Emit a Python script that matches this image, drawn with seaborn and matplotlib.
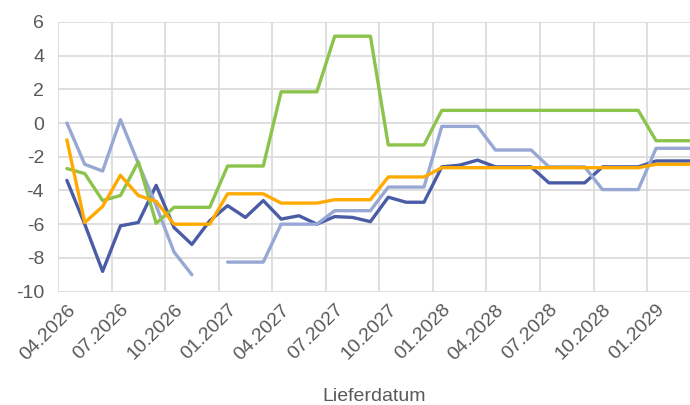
import numpy as np
import pandas as pd
import matplotlib
matplotlib.use("Agg")
import matplotlib.pyplot as plt
import seaborn as sns

# --- data (monthly, 04.2026 .. 03.2029) ---
months = pd.date_range("2026-04-01", "2029-03-01", freq="MS").strftime("%m.%Y").tolist()

dark_blue = [-3.4, -6.0, -8.8, -6.1, -5.9, -3.7, -6.2, -7.2, -5.8, -4.9, -5.6, -4.6,
             -5.7, -5.5, -6.0, -5.55, -5.6, -5.85, -4.4, -4.7, -4.7, -2.6, -2.5, -2.2,
             -2.6, -2.6, -2.6, -3.55, -3.55, -3.55, -2.6, -2.6, -2.6, -2.25, -2.25, -2.25]

light_blue = [0.0, -2.45, -2.85, 0.2, -2.4, -4.9, -7.65, -9.0, np.nan, -8.25, -8.25, -8.25,
              -6.0, -6.0, -6.0, -5.2, -5.2, -5.2, -3.8, -3.8, -3.8, -0.2, -0.2, -0.2,
              -1.6, -1.6, -1.6, -2.6, -2.6, -2.6, -3.95, -3.95, -3.95, -1.5, -1.5, -1.5]

green = [-2.7, -3.0, -4.6, -4.3, -2.3, -5.95, -5.0, -5.0, -5.0, -2.55, -2.55, -2.55,
         1.85, 1.85, 1.85, 5.15, 5.15, 5.15, -1.3, -1.3, -1.3, 0.75, 0.75, 0.75,
         0.75, 0.75, 0.75, 0.75, 0.75, 0.75, 0.75, 0.75, 0.75, -1.05, -1.05, -1.05]

orange = [-1.0, -5.9, -4.95, -3.1, -4.3, -4.65, -6.0, -6.0, -6.0, -4.2, -4.2, -4.2,
          -4.75, -4.75, -4.75, -4.55, -4.55, -4.55, -3.2, -3.2, -3.2, -2.65, -2.65, -2.65,
          -2.65, -2.65, -2.65, -2.65, -2.65, -2.65, -2.65, -2.65, -2.65, -2.45, -2.45, -2.45]

series = {"dark_blue": dark_blue, "light_blue": light_blue, "green": green, "orange": orange}
colors = {"dark_blue": "#4A5CA6", "light_blue": "#97A8D4", "green": "#8CC34B", "orange": "#FFAA00"}

sns.set_style("white")
plt.rcParams["font.family"] = ["Liberation Sans", "DejaVu Sans"]
plt.rcParams["axes.unicode_minus"] = False

fig = plt.figure(figsize=(6.9, 4.05), dpi=100)
ax = fig.add_axes([0.084, 0.28, 0.916, 0.666])

x = np.arange(len(months))
for name, vals in series.items():
    v = np.array(vals, dtype=float)
    # break the line where data is missing
    seg = np.cumsum(np.isnan(v))
    df = pd.DataFrame({"x": x, "y": v, "seg": seg}).dropna()
    sns.lineplot(data=df, x="x", y="y", units="seg", estimator=None,
                 color=colors[name], linewidth=2.4, ax=ax, legend=False)

ax.set_xlim(-0.5, 34.9)
ax.set_ylim(-10, 6)
ax.set_yticks(np.arange(-10, 7, 2))
ax.set_xticks(x[::3])
ax.set_xticklabels(months[::3], rotation=45, ha="right", rotation_mode="anchor")
ax.set_xticks(np.arange(-0.5, 35, 3), minor=True)

ax.grid(False)
ax.yaxis.grid(True, color="#D9D9D9", linewidth=1.2)
ax.xaxis.grid(True, which="minor", color="#D9D9D9", linewidth=1.2)
ax.set_axisbelow(True)
for s in ax.spines.values():
    s.set_visible(False)

ax.tick_params(axis="both", which="both", length=0, labelsize=14, colors="#595959")
ax.tick_params(axis="y", pad=10)
ax.tick_params(axis="x", pad=7)
ax.set_ylabel("")
ax.set_xlabel("Lieferdatum", fontsize=14, color="#595959", labelpad=18)

fig.savefig("out.png", dpi=100)
